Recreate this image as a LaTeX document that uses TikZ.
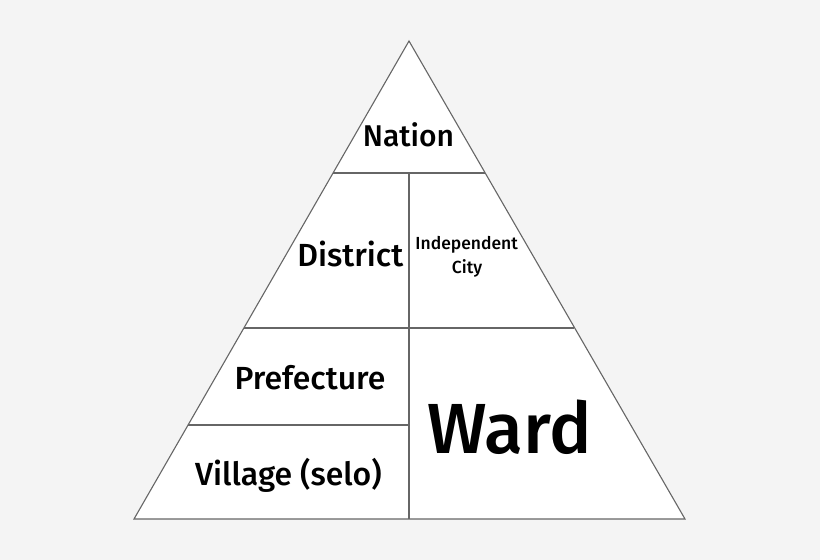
\documentclass[tikz,border=0pt]{standalone}
\usepackage{fontspec}
\setmainfont{Fira Sans}[UprightFont={* Medium}]
\definecolor{bggray}{HTML}{F4F4F4}
\definecolor{edgegray}{HTML}{666666}

\begin{document}
\begin{tikzpicture}[x=1pt,y=-1pt,
  edge/.style={line width=1.1pt,edgegray},
  lvl/.style={anchor=base,inner sep=0pt,font=\fontsize{32}{38}\selectfont},
  small/.style={lvl,font=\fontsize{17.5}{22}\selectfont}]
\fill[bggray](0,0) rectangle (820,560);
\useasboundingbox (0,0) rectangle (820,560);

 \coordinate (top) at (409,41);
 \coordinate (bl) at (134,519);
 \coordinate (br) at (685,519);
 \coordinate (mb) at (409,519);

\filldraw[edge,fill=white](top)--(bl)--(br)--cycle;
 \draw[edge](333,173)--(485,173);
 \draw[edge](243.6,328)--(574.4,328);
 \draw[edge](187.7,425)--(409,425);
 \draw[edge](409,173)--(mb);

 \node[lvl,font=\fontsize{30}{36}\selectfont] at (408.5,146.7) (nation) {Nation};
 \node[lvl] at (350.3,266) (district) {District};
 \node[small] at (466.7,249.3) (indep) {Independent};
 \node[small] at (467,273.3) (city) {City};
 \node[lvl] at (310,389.3) (pref) {Prefecture};
 \node[lvl] at (288.4,485) (village) {Village (selo)};
 \node[lvl,font=\fontsize{71}{85}\selectfont] at (509.7,453.3) (ward) {Ward};
\end{tikzpicture}
\end{document}
